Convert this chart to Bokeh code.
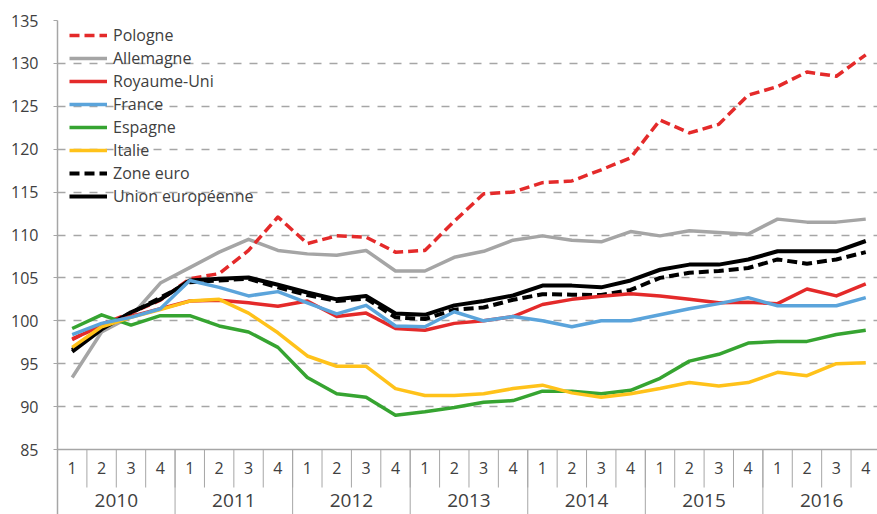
from bokeh.plotting import figure
from bokeh.models import Range1d, FixedTicker, Legend, LegendItem, Span
from bokeh.core.properties import value
from bokeh.embed import file_html
from bokeh.resources import INLINE

years = ["2010", "2011", "2012", "2013", "2014", "2015", "2016"]
quarters = ["1", "2", "3", "4"]

pologne = [97.8, 99.6, 100.9, 102.4, 104.9, 105.5, 108.2, 112.1, 109.0, 109.9, 109.75, 108.0, 108.2, 111.6,
           114.8, 115.0, 116.1, 116.3, 117.6, 119.0, 123.4, 121.9, 122.9, 126.3, 127.3, 129.0, 128.5, 131.0]
allemagne = [93.4, 98.7, 100.5, 104.4, 106.2, 108.0, 109.5, 108.2, 107.8, 107.65, 108.2, 105.8, 105.8, 107.4,
             108.1, 109.4, 109.9, 109.4, 109.2, 110.4, 109.9, 110.5, 110.3, 110.1, 111.85, 111.5, 111.5, 111.85]
royaume_uni = [97.9, 99.4, 100.5, 101.4, 102.3, 102.4, 102.1, 101.7, 102.3, 100.5, 100.9, 99.1, 98.9, 99.7,
               100.0, 100.5, 101.9, 102.5, 102.85, 103.15, 102.9, 102.5, 102.1, 102.15, 102.0, 103.7, 102.9, 104.3]
france = [98.4, 99.7, 100.4, 101.4, 104.7, 103.9, 102.9, 103.4, 102.1, 100.8, 101.8, 99.4, 99.3, 101.05,
          100.0, 100.5, 100.0, 99.3, 100.0, 100.0, 100.7, 101.4, 102.0, 102.7, 101.75, 101.75, 101.75, 102.7]
espagne = [99.1, 100.7, 99.5, 100.6, 100.6, 99.4, 98.7, 96.9, 93.4, 91.5, 91.1, 89.0, 89.4, 89.9,
           90.5, 90.7, 91.8, 91.8, 91.5, 91.9, 93.3, 95.3, 96.1, 97.4, 97.6, 97.6, 98.4, 98.9]
italie = [96.9, 99.3, 100.4, 101.3, 102.3, 102.5, 100.9, 98.6, 95.9, 94.7, 94.7, 92.1, 91.3, 91.3,
          91.5, 92.1, 92.5, 91.6, 91.1, 91.5, 92.1, 92.8, 92.4, 92.8, 94.0, 93.6, 95.0, 95.1]
zone_euro = [96.6, 99.1, 100.9, 102.7, 104.5, 104.7, 104.9, 103.9, 103.0, 102.3, 102.6, 100.4, 100.2, 101.3,
             101.55, 102.45, 103.1, 103.05, 103.0, 103.6, 105.0, 105.6, 105.8, 106.15, 107.15, 106.65, 107.15, 108.0]
union_europeenne = [96.4, 99.0, 101.0, 102.5, 104.7, 104.9, 105.05, 104.2, 103.3, 102.5, 102.9, 100.85, 100.7, 101.8,
                    102.3, 102.95, 104.1, 104.1, 103.9, 104.7, 105.95, 106.55, 106.55, 107.15, 108.1, 108.1, 108.1, 109.3]

y_ticks = [85, 90, 95, 100, 105, 110, 115, 120, 125, 130, 135]

FONT = "Open Sans"
TXT = "#404040"
AXC = "#A6A6A6"

W, H = 877, 514
TOP, LEFT = 20, 57          # frame top / left in pixels
AXIS_PX = 449               # pixel row of the value axis minimum
PPU = (AXIS_PX - TOP) / (y_ticks[-1] - y_ticks[0])   # pixels per value unit

def px_to_val(py):
    return y_ticks[0] - (py - AXIS_PX) / PPU

y_bottom = px_to_val(H)
x_end = 27.4

nq = len(quarters)
n = len(years) * nq
x = list(range(n))

p = figure(width=W, height=H, output_backend="svg", toolbar_location=None,
           x_range=Range1d(-0.5, x_end), y_range=Range1d(y_bottom, y_ticks[-1]),
           x_axis_location=None,
           min_border_left=LEFT, min_border_right=0, min_border_top=TOP, min_border_bottom=0)
p.outline_line_color = None
p.background_fill_color = "white"
p.border_fill_color = "white"

# y axis
p.yaxis.ticker = FixedTicker(ticks=y_ticks)
p.yaxis.axis_line_color = AXC
p.yaxis.axis_line_width = 1.5
p.yaxis.major_tick_out = 4
p.yaxis.major_tick_in = 0
p.yaxis.major_tick_line_color = AXC
p.yaxis.minor_tick_line_color = None
p.yaxis.major_label_standoff = 15
p.yaxis.major_label_text_font = FONT
p.yaxis.major_label_text_font_size = "16px"
p.yaxis.major_label_text_color = TXT

for g in p.xgrid:
    g.visible = False
p.ygrid.ticker = FixedTicker(ticks=y_ticks[1:])
p.ygrid.grid_line_color = AXC
p.ygrid.grid_line_width = 1.5
p.ygrid.grid_line_dash = "8 8"

# category axis band (drawn inside the frame, below the value minimum)
p.add_layout(Span(location=y_ticks[0], dimension="width", line_color=AXC, line_width=1.5))

q_bounds = [i - 0.5 for i in range(1, n + 1)]
q_sep_bottom = px_to_val(487)
p.segment(x0=q_bounds, y0=[y_ticks[0]] * len(q_bounds), x1=q_bounds, y1=[q_sep_bottom] * len(q_bounds),
          line_color=AXC, line_width=1)

y_bounds = [k * nq - 0.5 for k in range(1, len(years) + 1)]
p.segment(x0=y_bounds, y0=[y_ticks[0]] * len(y_bounds), x1=y_bounds, y1=[y_bottom] * len(y_bounds),
          line_color=AXC, line_width=1)

q_text = [quarters[i % nq] for i in x]
p.text(x=x, y=[px_to_val(467)] * n, text=q_text, text_align="center", text_baseline="middle",
       text_font=value(FONT), text_font_size=value("16px"), text_color=TXT)

y_centers = [k * nq + (nq - 1) / 2 for k in range(len(years))]
p.text(x=y_centers, y=[px_to_val(500)] * len(years), text=years, text_align="center", text_baseline="middle",
       text_font=value(FONT), text_font_size=value("19px"), text_color=TXT)

LW = 3.5
r_all = p.line(x, allemagne, line_color="#A5A5A5", line_width=LW, line_join="round")
r_pol = p.line(x, pologne, line_color="#E42A2A", line_width=LW, line_dash="10 5", line_join="round")
r_ze = p.line(x, zone_euro, line_color="black", line_width=4, line_dash="10 5", line_join="round")
r_ue = p.line(x, union_europeenne, line_color="black", line_width=4, line_join="round")
r_ru = p.line(x, royaume_uni, line_color="#E42A2A", line_width=LW, line_join="round")
r_esp = p.line(x, espagne, line_color="#36A431", line_width=LW, line_join="round")
r_ita = p.line(x, italie, line_color="#FFC21A", line_width=LW, line_join="round")
r_fr = p.line(x, france, line_color="#5BA4DB", line_width=LW, line_join="round")

items = [
    LegendItem(label="Pologne", renderers=[r_pol]),
    LegendItem(label="Allemagne", renderers=[r_all]),
    LegendItem(label="Royaume-Uni", renderers=[r_ru]),
    LegendItem(label="France", renderers=[r_fr]),
    LegendItem(label="Espagne", renderers=[r_esp]),
    LegendItem(label="Italie", renderers=[r_ita]),
    LegendItem(label="Zone euro", renderers=[r_ze]),
    LegendItem(label="Union européenne", renderers=[r_ue]),
]
legend = Legend(items=items, location=(12, 307), border_line_color=None, background_fill_alpha=0,
                padding=0, margin=0, spacing=1, glyph_width=38, glyph_height=22, label_height=22,
                label_standoff=6, label_text_font=FONT, label_text_font_size="16px",
                label_text_color=TXT)
p.add_layout(legend)

open("out.html", "w").write(file_html(p, INLINE))
